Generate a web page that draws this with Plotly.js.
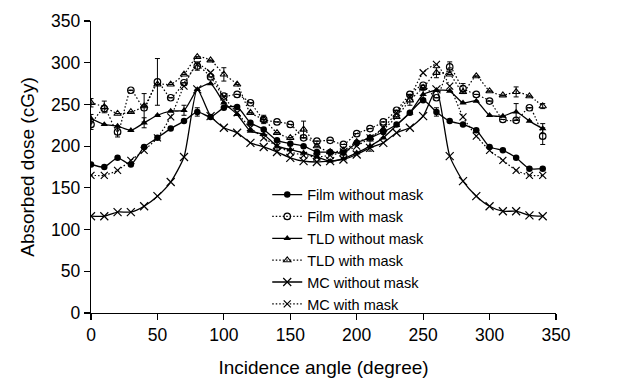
<!DOCTYPE html>
<html>
<head>
<meta charset="utf-8">
<script src="https://cdn.plot.ly/plotly-3.0.1.min.js"></script>
<style>html,body{margin:0;padding:0;background:#fff;}#chart{width:639px;height:381px;}</style>
</head>
<body>
<div id="chart"></div>
<script>
// Incidence angles (degree)
const angles = [0,10,20,30,40,50,60,70,80,90,100,110,120,130,140,150,160,170,180,190,200,210,220,230,240,250,260,270,280,290,300,310,320,330,340];

// Absorbed dose (cGy)
const filmWithoutMask = [178,175,186,178,199,210,221,230,241,235,246,247,228,220,207,203,200,193,193,192,204,210,217,226,240,255,241,230,226,219,199,195,186,173,173];
const filmWithMask    = [226,245,217,267,246,277,258,276,296,283,260,262,252,232,229,226,210,206,207,202,215,221,229,243,262,273,258,295,269,262,254,232,231,246,212];
const tldWithoutMask  = [233,226,224,219,228,237,242,243,268,275,252,238,218,214,200,196,192,187,182,185,192,200,210,225,240,262,267,266,252,254,237,236,241,230,221];
const tldWithMask     = [252,247,239,241,248,274,274,286,307,303,286,274,240,232,216,210,220,200,193,195,205,210,220,235,255,270,288,286,265,284,266,261,265,260,248];
const mcWithoutMask   = [116,116,121,121,128,140,157,187,268,236,222,216,204,199,193,186,182,181,182,184,190,198,204,216,222,236,268,188,158,140,128,122,122,117,116];
const mcWithMask      = [165,165,171,183,195,210,235,272,298,288,259,240,222,210,200,193,189,187,189,193,200,210,222,240,259,288,298,272,235,212,195,183,171,165,165];

// Error bars (cGy)
const filmWithoutMaskErr = [0,0,0,0,0,0,0,0,5,0,0,0,0,0,0,0,0,0,0,0,0,0,0,0,0,0,5,0,0,0,0,0,0,0,0];
const filmWithMaskErr    = [6,0,6,0,17,28,0,0,5,0,0,0,0,0,0,0,0,0,0,0,0,0,0,0,0,0,0,6,6,0,0,0,0,0,10];
const tldWithoutMaskErr  = [5,0,0,0,6,0,0,6,0,0,0,0,0,0,5,0,0,0,0,0,0,6,0,0,0,5,0,0,0,0,0,0,10,0,6];
const tldWithMaskErr     = [5,7,0,0,0,0,0,0,0,0,8,0,0,5,0,0,10,0,0,0,0,0,0,0,6,0,6,0,0,0,0,0,6,0,3];

const solid = {color:'#000', width:1.3, shape:'spline', smoothing:0.6};
const dotted = {color:'#000', width:1.2, dash:'1.5px,2px', shape:'spline', smoothing:0.6};
function err(a){return {type:'data', array:a, visible:true, color:'#000', thickness:1, width:2.5};}

const traces = [
  {name:'Film without mask', x:angles, y:filmWithoutMask, error_y:err(filmWithoutMaskErr), mode:'lines+markers', line:solid,
   marker:{symbol:'circle', size:6.5, color:'#000'}},
  {name:'Film with mask', x:angles, y:filmWithMask, error_y:err(filmWithMaskErr), mode:'lines+markers', line:dotted,
   marker:{symbol:'circle-open', size:6.5, color:'#000', line:{width:1.2, color:'#000'}}},
  {name:'TLD without mask', x:angles, y:tldWithoutMask, error_y:err(tldWithoutMaskErr), mode:'lines+markers', line:solid,
   marker:{symbol:'triangle-up', size:6.5, color:'#000'}},
  {name:'TLD with mask', x:angles, y:tldWithMask, error_y:err(tldWithMaskErr), mode:'lines+markers', line:dotted,
   marker:{symbol:'triangle-up-open', size:6.5, color:'#000', line:{width:1.1, color:'#000'}}},
  {name:'MC without mask', x:angles, y:mcWithoutMask, mode:'lines+markers', line:solid,
   marker:{symbol:'x-thin-open', size:8, color:'#000', line:{width:1.2, color:'#000'}}},
  {name:'MC with mask', x:angles, y:mcWithMask, mode:'lines+markers', line:dotted,
   marker:{symbol:'x-thin-open', size:7, color:'#000', line:{width:1.2, color:'#000'}}}
];

const axisFont = {family:'Arial, "Liberation Sans", sans-serif', size:17.5, color:'#000'};
const layout = {
  width:639, height:381,
  margin:{l:91, r:83, t:21, b:68},
  paper_bgcolor:'#fff', plot_bgcolor:'#fff',
  font:{family:'Arial, "Liberation Sans", sans-serif', color:'#000'},
  showlegend:true,
  legend:{x:0.379, y:0.46, xanchor:'left', yanchor:'top', bgcolor:'rgba(0,0,0,0)',
          font:{family:'Arial, "Liberation Sans", sans-serif', size:14.5, color:'#000'},
          itemwidth:30, tracegroupgap:0},
  xaxis:{range:[0,350], tickvals:[0,50,100,150,200,250,300,350], showgrid:false, zeroline:false,
         showline:true, linecolor:'#000', linewidth:1.3, ticks:'outside', ticklen:6, tickcolor:'#000', tickwidth:1.2,
         tickfont:axisFont,
         title:{text:'Incidence angle (degree)', font:{family:'Arial, "Liberation Sans", sans-serif', size:19, color:'#000'}, standoff:16}},
  yaxis:{range:[0,350], tickvals:[0,50,100,150,200,250,300,350], showgrid:false, zeroline:false,
         showline:true, linecolor:'#000', linewidth:1.3, ticks:'outside', ticklen:6, tickcolor:'#000', tickwidth:1.2,
         tickfont:axisFont,
         title:{text:'Absorbed dose (cGy)', font:{family:'Arial, "Liberation Sans", sans-serif', size:19, color:'#000'}, standoff:11}}
};

Plotly.newPlot('chart', traces, layout, {displayModeBar:false, staticPlot:true});
</script>
</body>
</html>
